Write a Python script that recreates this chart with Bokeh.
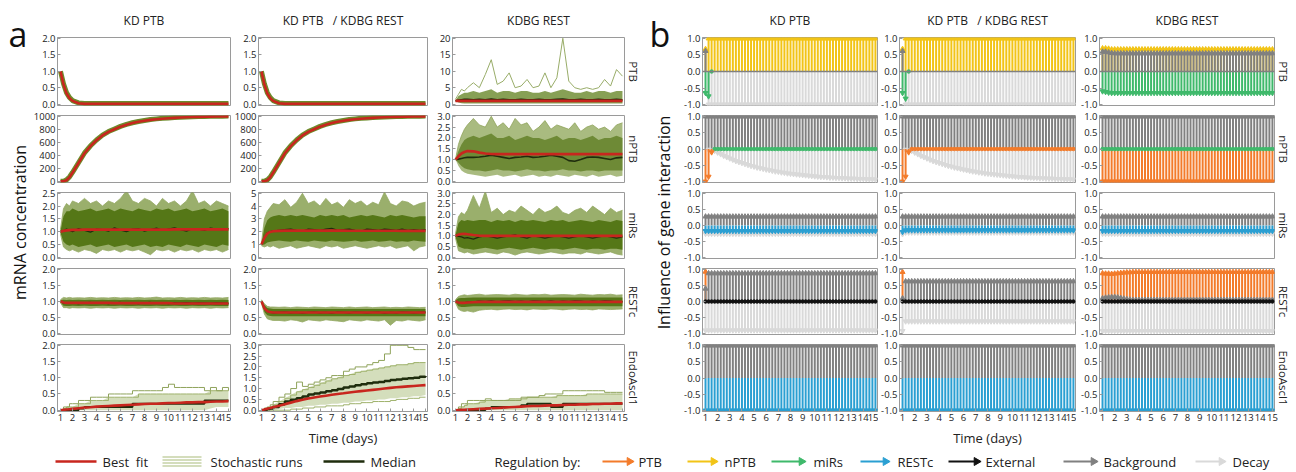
import math
from bokeh.plotting import figure
from bokeh.layouts import row, column
from bokeh.models import Range1d, FixedTicker, PrintfTickFormatter, Title, Span, ColumnDataSource
from bokeh.embed import file_html
from bokeh.resources import INLINE
from bokeh.core.properties import value

FONT = "Open Sans"
NB = "\u00a0"

# ---------------- labels ----------------
COLUMN_TITLES = ["KD PTB", "KD PTB" + NB * 3 + "/ KDBG REST", "KDBG REST"]
GENES = ["PTB", "nPTB", "miRs", "RESTc", "EndoAscl1"]
DAY_TICKS = [1, 2, 3, 4, 5, 6, 7, 8, 9, 10, 11, 12, 13, 14, 15]
A_YLABEL = "mRNA concentration"
B_YLABEL = "Influence of gene interaction"
X_LABEL = "Time (days)"

# ---------------- panel a: time grid ----------------
TA = [1.0, 1.25, 1.5, 1.75, 2.0,
      2.5, 3.0, 3.5, 4.0, 4.5, 5.0,
      5.5, 6.0, 6.5, 7.0, 7.5, 8.0, 8.5, 9.0, 9.5, 10.0,
      10.5, 11.0, 11.5, 12.0, 12.5, 13.0, 13.5, 14.0, 14.5, 15.0]

A_YMAX = [[2.0, 2.0, 20.0], [1000.0, 1000.0, 3.0], [2.5, 5.0, 3.0], [2.0, 2.0, 2.0], [2.0, 3.0, 2.0]]
TICKS_2 = [0.0, 0.5, 1.0, 1.5, 2.0]
TICKS_25 = [0.0, 0.5, 1.0, 1.5, 2.0, 2.5]
TICKS_3 = [0.0, 0.5, 1.0, 1.5, 2.0, 2.5, 3.0]
TICKS_5 = [0, 1, 2, 3, 4, 5]
TICKS_20 = [0, 5, 10, 15, 20]
TICKS_1000 = [0, 200, 400, 600, 800, 1000]

# PTB, KD PTB
A11_FIT = [1.0, 0.6, 0.33, 0.18, 0.1] + [0.03, 0.01, 0.01, 0.01, 0.01, 0.01] + [0.01] * 20
A11_MED = [1.0, 0.62, 0.35, 0.2, 0.11] + [0.04, 0.02, 0.02, 0.02, 0.02, 0.02] + [0.02] * 20
# PTB, KD PTB / KDBG REST
A12_FIT = [1.0, 0.6, 0.33, 0.18, 0.1] + [0.03, 0.01, 0.01, 0.01, 0.01, 0.01] + [0.01] * 20
A12_MED = [1.0, 0.62, 0.35, 0.2, 0.11] + [0.04, 0.02, 0.02, 0.02, 0.02, 0.02] + [0.02] * 20
# PTB, KDBG REST
A13_FIT = [1.0] * 31
A13_MED = [1.0, 1.2, 1.3, 1.4, 1.4, 1.3, 1.4, 1.3, 1.5, 1.3, 1.4,
           1.3, 1.3, 1.4, 1.3, 1.3, 1.4, 1.3, 1.3, 1.4, 1.5,
           1.3, 1.3, 1.4, 1.3, 1.3, 1.4, 1.3, 1.3, 1.4, 1.3]
A13_LO = [1.0, 0.5, 0.3, 0.2, 0.2] + [0.2] * 26
A13_HI = [1.1, 2.5, 3.0, 3.5, 3.5, 4.0, 3.5, 4.0, 4.5, 3.5, 4.0,
          4.0, 3.5, 4.0, 4.0, 3.5, 3.5, 4.0, 3.5, 4.0, 4.5,
          4.0, 3.5, 3.5, 4.0, 3.5, 4.0, 4.0, 3.5, 4.0, 4.0]
A13_MAX = [1.5, 3.0, 4.5, 4.0, 5.0, 6.5, 5.0, 9.0, 13.5, 6.0, 7.0,
           9.5, 5.0, 5.5, 7.5, 5.0, 5.5, 9.5, 5.0, 8.0, 20.0,
           7.0, 5.0, 4.5, 5.0, 4.5, 5.0, 7.5, 5.5, 10.5, 8.5]

# nPTB, KD PTB  and  KD PTB / KDBG REST
A21_FIT = [0, 0, 15, 60, 130, 280, 430, 540, 630, 705, 760,
           800, 840, 870, 895, 915, 930, 945, 955, 963, 970,
           976, 981, 985, 988, 991, 993, 995, 996, 997, 998]
A21_MED = [0, 0, 20, 65, 135, 285, 435, 545, 635, 710, 765,
           805, 845, 875, 900, 920, 935, 950, 960, 968, 975,
           981, 986, 990, 993, 996, 998, 1000, 1001, 1002, 1003]
A22_FIT = [0, 0, 15, 60, 130, 280, 430, 540, 630, 705, 760,
           800, 840, 870, 895, 915, 930, 945, 955, 963, 970,
           976, 981, 985, 988, 991, 993, 995, 996, 997, 998]
A22_MED = [0, 0, 20, 65, 135, 285, 435, 545, 635, 710, 765,
           805, 845, 875, 900, 920, 935, 950, 960, 968, 975,
           981, 986, 990, 993, 996, 998, 1000, 1001, 1002, 1003]
# nPTB, KDBG REST
A23_FIT = [1.0, 1.15, 1.28, 1.35, 1.39, 1.38, 1.32, 1.28, 1.26, 1.25, 1.25] + [1.25] * 20
A23_MED = [1.0, 1.02, 1.05, 1.08, 1.1, 1.1, 1.12, 1.15, 1.2, 1.15, 1.1,
           1.05, 1.1, 1.12, 1.15, 1.1, 1.12, 1.15, 1.2, 1.15, 1.1,
           0.95, 0.92, 1.0, 1.1, 1.12, 1.1, 1.05, 1.0, 1.08, 1.1]
A23_LO = [1.0, 0.85, 0.7, 0.6, 0.55, 0.5, 0.5, 0.45, 0.5, 0.55, 0.5,
          0.5, 0.45, 0.5, 0.55, 0.5, 0.5, 0.45, 0.5, 0.5, 0.55,
          0.5, 0.5, 0.45, 0.5, 0.5, 0.45, 0.5, 0.5, 0.5, 0.5]
A23_HI = [1.0, 1.4, 1.7, 1.9, 2.0, 2.1, 2.0, 2.1, 2.2, 2.0, 2.0,
          2.1, 1.9, 2.0, 2.1, 2.0, 2.0, 1.9, 2.0, 2.1, 1.9,
          2.0, 2.0, 1.9, 2.0, 2.1, 1.9, 2.0, 2.0, 2.1, 2.0]
A23_MIN = [1.0, 0.7, 0.5, 0.4, 0.35, 0.3, 0.25, 0.2, 0.25, 0.3, 0.2,
           0.25, 0.3, 0.2, 0.25, 0.3, 0.2, 0.25, 0.2, 0.3, 0.25,
           0.2, 0.3, 0.25, 0.2, 0.3, 0.2, 0.25, 0.3, 0.2, 0.25]
A23_MAX = [1.0, 1.7, 2.1, 2.4, 2.6, 2.9, 2.6, 2.5, 3.0, 2.5, 2.7,
           2.4, 2.9, 2.6, 2.7, 2.3, 2.5, 2.8, 2.4, 2.6, 2.5,
           2.4, 2.7, 2.3, 2.5, 2.6, 2.4, 2.5, 2.3, 2.6, 2.7]

# miRs
A31_FIT = [1.0, 1.03, 1.05, 1.06, 1.07, 1.07, 1.08, 1.08, 1.08, 1.08, 1.08] + [1.08] * 10 + [1.09] * 10
A31_MED = [1.0, 1.02, 1.1, 1.05, 1.0, 1.12, 1.05, 0.98, 1.1, 1.08, 1.02,
           1.15, 1.06, 1.0, 1.1, 1.12, 1.02, 1.08, 1.14, 1.05, 1.1,
           1.15, 1.08, 1.02, 1.12, 1.1, 1.05, 1.14, 1.1, 1.08, 1.12]
A31_LO = [0.95, 0.6, 0.5, 0.45, 0.5, 0.4, 0.45, 0.5, 0.4, 0.45, 0.5,
          0.4, 0.45, 0.5, 0.4, 0.45, 0.5, 0.4, 0.45, 0.4, 0.5,
          0.45, 0.4, 0.5, 0.45, 0.4, 0.5, 0.45, 0.4, 0.5, 0.45]
A31_HI = [1.05, 1.6, 1.8, 1.8, 1.9, 1.8, 1.85, 1.9, 1.8, 1.85, 1.9,
          1.8, 1.9, 1.85, 1.8, 1.9, 1.85, 1.8, 1.9, 1.85, 1.9,
          1.8, 1.85, 1.9, 1.8, 1.85, 1.9, 1.8, 1.85, 1.9, 1.8]
A31_MIN = [0.9, 0.4, 0.3, 0.25, 0.3, 0.2, 0.3, 0.25, 0.15, 0.3, 0.25,
           0.3, 0.2, 0.3, 0.25, 0.3, 0.2, 0.1, 0.3, 0.25, 0.3,
           0.2, 0.3, 0.25, 0.3, 0.2, 0.3, 0.25, 0.3, 0.2, 0.3]
A31_MAX = [1.1, 1.9, 2.1, 2.0, 2.2, 2.1, 2.3, 2.1, 2.2, 2.0, 2.2,
           2.1, 2.3, 2.6, 2.2, 2.1, 2.3, 2.2, 2.0, 2.3, 2.1,
           2.2, 2.0, 2.2, 2.6, 2.1, 2.2, 2.0, 2.2, 2.1, 2.0]

A32_FIT = [1.0, 1.5, 1.85, 1.98, 2.03, 2.06, 2.08, 2.08, 2.08, 2.08, 2.08,
           2.08, 2.08, 2.08, 2.08, 2.08, 2.08, 2.07, 2.07, 2.07, 2.07,
           2.07, 2.07, 2.07, 2.07, 2.07, 2.06, 2.06, 2.06, 2.06, 2.06]
A32_MED = [1.0, 1.5, 1.9, 2.0, 2.05, 2.1, 2.15, 2.2, 2.1, 2.05, 2.2,
           2.15, 2.1, 2.2, 2.25, 2.1, 2.15, 2.2, 2.1, 2.05, 2.2,
           2.15, 2.1, 2.2, 2.15, 2.1, 2.2, 2.1, 2.15, 2.1, 2.15]
A32_LO = [0.95, 1.0, 1.15, 1.2, 1.25, 1.3, 1.25, 1.2, 1.3, 1.25, 1.2,
          1.3, 1.25, 1.2, 1.3, 1.25, 1.2, 1.25, 1.3, 1.2, 1.25,
          1.3, 1.2, 1.25, 1.3, 1.2, 1.25, 1.2, 1.3, 1.25, 1.2]
A32_HI = [1.05, 2.3, 2.9, 3.1, 3.2, 3.3, 3.2, 3.3, 3.2, 3.3, 3.2,
          3.1, 3.3, 3.2, 3.3, 3.2, 3.3, 3.1, 3.2, 3.3, 3.2,
          3.3, 3.2, 3.1, 3.3, 3.2, 3.3, 3.2, 3.1, 3.2, 3.2]
A32_MIN = [0.9, 0.8, 0.9, 0.8, 0.9, 0.7, 0.8, 0.9, 0.7, 0.8, 0.9,
           0.8, 0.7, 0.9, 0.8, 0.9, 0.7, 0.8, 0.9, 0.8, 0.7,
           0.8, 0.9, 0.8, 0.9, 0.7, 0.8, 0.9, 0.5, 0.8, 0.9]
A32_MAX = [1.1, 3.0, 3.6, 3.9, 4.2, 4.1, 4.5, 3.9, 4.3, 5.0, 4.2,
           4.4, 4.0, 4.6, 4.1, 4.3, 3.9, 4.5, 4.2, 4.4, 4.0,
           4.3, 4.1, 5.1, 4.2, 4.0, 4.4, 4.3, 4.0, 4.2, 4.3]

A33_FIT = [1.0, 1.06, 1.09, 1.1, 1.08, 1.04, 1.01, 1.0, 1.0, 1.0, 1.0] + [1.0] * 20
A33_MED = [1.0, 0.98, 0.95, 0.9, 0.92, 0.85, 0.95, 1.0, 0.95, 0.9, 0.95,
           1.0, 1.05, 0.95, 0.9, 1.0, 0.95, 0.9, 0.95, 1.0, 0.95,
           0.9, 0.95, 1.0, 0.95, 0.9, 0.95, 1.0, 0.95, 0.9, 0.95]
A33_LO = [0.95, 0.5, 0.45, 0.4, 0.4, 0.35, 0.4, 0.45, 0.4, 0.35, 0.4,
          0.45, 0.4, 0.35, 0.4, 0.45, 0.4, 0.35, 0.4, 0.4, 0.35,
          0.4, 0.45, 0.4, 0.35, 0.4, 0.4, 0.35, 0.4, 0.4, 0.35]
A33_HI = [1.05, 1.6, 1.75, 1.7, 1.75, 1.7, 1.75, 1.75, 1.65, 1.75, 1.7,
          1.75, 1.65, 1.75, 1.7, 1.75, 1.7, 1.65, 1.75, 1.7, 1.75,
          1.65, 1.7, 1.75, 1.7, 1.65, 1.75, 1.7, 1.65, 1.75, 1.7]
A33_MIN = [0.9, 0.3, 0.25, 0.2, 0.25, 0.15, 0.2, 0.25, 0.2, 0.15, 0.25,
           0.2, 0.1, 0.2, 0.25, 0.2, 0.15, 0.2, 0.25, 0.2, 0.15,
           0.2, 0.2, 0.15, 0.25, 0.2, 0.15, 0.2, 0.25, 0.15, 0.1]
A33_MAX = [1.1, 1.9, 2.1, 2.0, 2.2, 2.9, 2.3, 3.1, 2.1, 2.3, 2.0,
           2.2, 2.1, 2.4, 2.2, 2.0, 2.3, 2.1, 2.2, 2.4, 2.1,
           2.0, 2.2, 2.3, 2.1, 2.4, 2.2, 2.0, 2.3, 2.1, 2.2]

# RESTc
A41_FIT = [1.0, 0.96, 0.95, 0.95, 0.95] + [0.95] * 6 + [0.94] * 10 + [0.93] * 10
A41_MED = [1.0, 0.95, 0.94, 0.96, 0.95, 0.93, 0.95, 0.96, 0.94, 0.95, 0.93,
           0.95, 0.96, 0.94, 0.95, 0.93, 0.95, 0.96, 0.94, 0.95, 0.93,
           0.95, 0.94, 0.96, 0.93, 0.95, 0.94, 0.93, 0.95, 0.94, 0.93]
A41_LO = [0.97, 0.86, 0.85, 0.85, 0.86, 0.85, 0.86, 0.85, 0.85, 0.86, 0.85,
          0.85, 0.86, 0.85, 0.85, 0.86, 0.85, 0.85, 0.86, 0.85, 0.85,
          0.86, 0.85, 0.85, 0.86, 0.85, 0.85, 0.86, 0.85, 0.85, 0.85]
A41_HI = [1.03, 1.05, 1.04, 1.05, 1.04, 1.05, 1.04, 1.05, 1.04, 1.05, 1.04,
          1.05, 1.04, 1.05, 1.04, 1.05, 1.04, 1.05, 1.04, 1.05, 1.04,
          1.05, 1.04, 1.05, 1.04, 1.05, 1.04, 1.05, 1.04, 1.05, 1.04]
A41_MIN = [0.95, 0.8, 0.8, 0.78, 0.8, 0.79, 0.8, 0.78, 0.8, 0.79, 0.8,
           0.78, 0.8, 0.79, 0.8, 0.78, 0.8, 0.79, 0.8, 0.78, 0.8,
           0.79, 0.8, 0.78, 0.8, 0.79, 0.8, 0.78, 0.8, 0.79, 0.8]
A41_MAX = [1.05, 1.12, 1.1, 1.12, 1.1, 1.11, 1.1, 1.12, 1.1, 1.11, 1.1,
           1.12, 1.1, 1.11, 1.1, 1.12, 1.1, 1.11, 1.13, 1.1, 1.11,
           1.1, 1.12, 1.1, 1.11, 1.1, 1.12, 1.1, 1.11, 1.1, 1.12]

A42_FIT = [1.0, 0.78, 0.69, 0.66, 0.65] + [0.65] * 26
A42_MED = [1.0, 0.78, 0.68, 0.66, 0.64, 0.65, 0.66, 0.64, 0.65, 0.63, 0.65,
           0.66, 0.64, 0.65, 0.63, 0.66, 0.65, 0.64, 0.66, 0.65, 0.64,
           0.65, 0.66, 0.63, 0.65, 0.64, 0.66, 0.65, 0.64, 0.65, 0.66]
A42_LO = [0.97, 0.66, 0.56, 0.54, 0.53] + [0.53] * 26
A42_HI = [1.03, 0.88, 0.79, 0.77, 0.76] + [0.76] * 26
A42_MIN = [0.95, 0.6, 0.45, 0.42, 0.4, 0.4, 0.38, 0.42, 0.4, 0.35, 0.42,
           0.4, 0.38, 0.42, 0.4, 0.38, 0.36, 0.42, 0.4, 0.38, 0.42,
           0.4, 0.38, 0.42, 0.25, 0.4, 0.38, 0.42, 0.4, 0.38, 0.42]
A42_MAX = [1.05, 0.92, 0.84, 0.82, 0.82, 0.81, 0.82, 0.8, 0.82, 0.81, 0.8,
           0.82, 0.81, 0.8, 0.82, 0.81, 0.8, 0.82, 0.8, 0.81, 0.82,
           0.8, 0.81, 0.82, 0.8, 0.81, 0.8, 0.82, 0.81, 0.8, 0.81]

A43_FIT = [1.0, 0.96, 0.95, 0.95, 0.96, 0.97, 0.98, 0.98, 0.98, 0.98, 0.98] + [0.98] * 20
A43_MED = [1.0, 0.96, 0.95, 0.96, 0.97, 0.98, 1.0, 0.99, 1.01, 0.98, 1.0,
           1.01, 0.99, 1.0, 0.98, 1.01, 1.0, 0.99, 1.01, 0.98, 1.0,
           0.99, 1.01, 1.0, 0.98, 1.0, 0.99, 1.01, 1.0, 0.98, 0.99]
A43_LO = [0.97, 0.84, 0.82, 0.82, 0.83] + [0.84] * 26
A43_HI = [1.03, 1.09, 1.1, 1.1, 1.11] + [1.12] * 26
A43_MIN = [0.95, 0.75, 0.7, 0.68, 0.7, 0.66, 0.72, 0.74, 0.75, 0.73, 0.75,
           0.76, 0.74, 0.75, 0.73, 0.76, 0.75, 0.74, 0.76, 0.75, 0.73,
           0.75, 0.76, 0.74, 0.75, 0.73, 0.76, 0.75, 0.74, 0.75, 0.76]
A43_MAX = [1.05, 1.15, 1.18, 1.2, 1.18, 1.2, 1.22, 1.19, 1.2, 1.21, 1.2,
           1.19, 1.22, 1.2, 1.19, 1.21, 1.2, 1.22, 1.19, 1.2, 1.21,
           1.2, 1.19, 1.22, 1.2, 1.19, 1.21, 1.2, 1.22, 1.19, 1.2]

# EndoAscl1
A51_FIT = [0.0, 0.01, 0.02, 0.03, 0.04, 0.06, 0.08, 0.09, 0.11, 0.12, 0.13,
           0.14, 0.15, 0.16, 0.17, 0.18, 0.19, 0.2, 0.2, 0.21, 0.22,
           0.22, 0.23, 0.24, 0.24, 0.25, 0.25, 0.26, 0.27, 0.27, 0.28]
A51_MED = [0, 0, 0, 0, 0, 0.05, 0.1, 0.1, 0.1, 0.1, 0.1,
           0.1, 0.1, 0.1, 0.2, 0.2, 0.2, 0.2, 0.2, 0.2, 0.2,
           0.2, 0.2, 0.2, 0.2, 0.2, 0.3, 0.3, 0.3, 0.3, 0.3]
A51_LO = [0.0] * 27 + [0.05, 0.1, 0.1, 0.1]
A51_HI = [0, 0.05, 0.1, 0.1, 0.1, 0.2, 0.2, 0.3, 0.3, 0.3, 0.4,
          0.4, 0.4, 0.4, 0.4, 0.5, 0.5, 0.5, 0.5, 0.5, 0.5,
          0.5, 0.5, 0.5, 0.5, 0.5, 0.5, 0.6, 0.6, 0.6, 0.6]
A51_MAX = [0, 0.1, 0.1, 0.2, 0.2, 0.3, 0.3, 0.4, 0.4, 0.4, 0.5,
           0.5, 0.5, 0.5, 0.6, 0.6, 0.6, 0.6, 0.6, 0.7, 0.8,
           0.7, 0.7, 0.7, 0.7, 0.7, 0.6, 0.7, 0.6, 0.7, 0.6]

A52_FIT = [0.0, 0.03, 0.07, 0.1, 0.14, 0.21, 0.28, 0.35, 0.42, 0.48, 0.54,
           0.59, 0.63, 0.67, 0.71, 0.75, 0.78, 0.82, 0.85, 0.88, 0.91,
           0.94, 0.97, 1.0, 1.03, 1.06, 1.08, 1.1, 1.12, 1.14, 1.16]
A52_MED = [0, 0.02, 0.05, 0.08, 0.15, 0.28, 0.4, 0.48, 0.55, 0.63, 0.72,
           0.77, 0.82, 0.87, 0.92, 0.98, 1.05, 1.1, 1.15, 1.2, 1.25,
           1.28, 1.3, 1.35, 1.4, 1.42, 1.45, 1.48, 1.5, 1.55, 1.58]
A52_LO = [0, 0, 0, 0, 0, 0.05, 0.1, 0.1, 0.15, 0.15, 0.2,
          0.2, 0.25, 0.25, 0.3, 0.3, 0.35, 0.35, 0.4, 0.4, 0.45,
          0.45, 0.5, 0.5, 0.55, 0.55, 0.6, 0.6, 0.65, 0.65, 0.7]
A52_HI = [0, 0.05, 0.1, 0.15, 0.25, 0.4, 0.55, 0.7, 0.85, 0.95, 1.05,
          1.15, 1.25, 1.35, 1.45, 1.5, 1.6, 1.65, 1.75, 1.8, 1.85,
          1.9, 1.95, 2.0, 2.05, 2.1, 2.1, 2.15, 2.2, 2.2, 2.2]
A52_MIN = [0, 0, 0, 0, 0, 0, 0, 0.05, 0.05, 0.1, 0.1,
           0.15, 0.15, 0.2, 0.2, 0.2, 0.25, 0.3, 0.3, 0.35, 0.35,
           0.4, 0.4, 0.4, 0.45, 0.5, 0.5, 0.55, 0.55, 0.6, 0.6]
A52_MAX = [0, 0.1, 0.15, 0.25, 0.4, 0.6, 0.75, 1.0, 1.3, 1.1, 1.2,
           1.3, 1.4, 1.5, 1.6, 1.6, 1.8, 1.9, 2.0, 2.0, 2.1,
           2.2, 2.3, 2.6, 3.0, 3.0, 3.0, 2.9, 2.8, 2.8, 2.8]

A53_FIT = [0.0, 0.005, 0.01, 0.015, 0.02, 0.03, 0.04, 0.05, 0.06, 0.07, 0.08,
           0.09, 0.1, 0.11, 0.12, 0.13, 0.13, 0.14, 0.15, 0.15, 0.16,
           0.17, 0.17, 0.18, 0.18, 0.19, 0.19, 0.2, 0.2, 0.21, 0.21]
A53_MED = [0, 0, 0, 0, 0, 0, 0, 0.05, 0.1, 0.1, 0.1,
           0.1, 0.1, 0.15, 0.2, 0.2, 0.2, 0.2, 0.1, 0.1, 0.2] + [0.2] * 10
A53_LO = [0.0] * 31
A53_HI = [0, 0.05, 0.1, 0.15, 0.2, 0.2, 0.25, 0.3, 0.3, 0.3, 0.3,
          0.35, 0.35, 0.35, 0.4, 0.4, 0.4, 0.4, 0.4, 0.45, 0.45,
          0.45, 0.45, 0.45, 0.5, 0.5, 0.5, 0.5, 0.5, 0.5, 0.5]
A53_MAX = [0, 0.1, 0.2, 0.2, 0.3, 0.3, 0.3, 0.35, 0.3, 0.3, 0.3,
           0.3, 0.3, 0.4, 0.4, 0.4, 0.45, 0.5, 0.5, 0.5, 0.6,
           0.6, 0.6, 0.6, 0.6, 0.6, 0.6, 0.55, 0.55, 0.55, 0.55]

# ---------------- panel b: time grid (quarter days) ----------------
TB = [1 + 0.25 * i for i in range(57)]
B_TICKS = [-1.0, -0.5, 0.0, 0.5, 1.0]

B11_DECAY = [None] + [-1.0] * 56
B11_NPTB = [0.68] + [1.0] * 56
B11_BACKGROUND = [0.62] + [None] * 56
B11_MIRS = [-0.65, -0.75, 0.0] + [None] * 54

B12_DECAY = [None] + [-1.0] * 56
B12_NPTB = [0.68] + [1.0] * 56
B12_BACKGROUND = [0.62] + [None] * 56
B12_MIRS = [-0.65, -0.82, 0.0] + [None] * 54

B13_NPTB = [0.7, 0.7, 0.69] + [0.67] * 54
B13_BACKGROUND = [0.6, 0.6, 0.58, 0.56] + [0.55] * 53
B13_MIRS = [-0.6, -0.62, -0.64] + [-0.65] * 54

DECAY_NPTB_KD = [-0.06, -0.11, -0.16, -0.21, -0.25,
                 -0.29, -0.33, -0.37, -0.40,
                 -0.43, -0.46, -0.49, -0.52,
                 -0.54, -0.57, -0.59, -0.61,
                 -0.63, -0.65, -0.67, -0.69,
                 -0.70, -0.72, -0.73, -0.75,
                 -0.76, -0.77, -0.78, -0.79,
                 -0.80, -0.81, -0.82, -0.83,
                 -0.84, -0.85, -0.86, -0.86,
                 -0.87, -0.88, -0.88, -0.89,
                 -0.89, -0.90, -0.90, -0.91,
                 -0.91, -0.91, -0.92, -0.92,
                 -0.92, -0.93, -0.93, -0.93,
                 -0.94]
B21_BACKGROUND = [1.0] * 57
B21_DECAY = [None, -0.02, -0.05] + DECAY_NPTB_KD
B21_PTB = [-1.0, -0.85, -0.1] + [None] * 54
B21_MIRS = [None] * 3 + [0.0] * 54

B22_BACKGROUND = [1.0] * 57
B22_DECAY = [None, -0.02, -0.05] + DECAY_NPTB_KD
B22_PTB = [-1.0, -0.85, -0.1] + [0.0] * 54

B23_BACKGROUND = [1.0] * 57
B23_PTB = [-1.0] * 57
B23_MIRS = [0.0] * 57

B31_BACKGROUND = [0.28] * 57
B31_DECAY = [-0.26] * 57
B31_RESTC = [-0.17] * 57
B32_BACKGROUND = [0.28] * 57
B32_DECAY = [-0.27] + [-0.22] * 56
B32_RESTC = [-0.2] + [-0.15] * 56
B33_BACKGROUND = [0.28] * 57
B33_DECAY = [-0.26] * 57
B33_RESTC = [-0.17] * 57

B41_DECAY = [-0.9] * 57
B41_PTB = [0.93] + [None] * 56
B41_BACKGROUND = [0.4] + [0.88] * 56
B41_EXTERNAL = [0.0] * 57
B42_DECAY = [-0.92] + [-0.62] * 56
B42_PTB = [0.92] + [None] * 56
B42_BACKGROUND = [0.1] + [0.63] * 56
B42_EXTERNAL = [0.0] * 57
B43_DECAY = [-0.92] * 57
B43_PTB = [0.88, 0.87, 0.87, 0.86, 0.87, 0.88, 0.89, 0.9, 0.91, 0.91] + [0.92] * 47
B43_BACKGROUND = [0.1, 0.12, 0.13, 0.14, 0.14, 0.13, 0.11, 0.09, 0.07, 0.06] + [0.05] * 47
B43_EXTERNAL = [0.0] * 57

B51_BACKGROUND = [1.0] * 57
B51_RESTC = [-1.0] * 57
B52_BACKGROUND = [1.0] * 57
B52_RESTC = [-1.0] * 57
B53_BACKGROUND = [1.0] * 57
B53_RESTC = [-1.0] * 57

# ---------------- colours ----------------
C_PTB = "#f37b2a"
C_NPTB = "#f2c416"
C_MIRS = "#3fb96b"
C_RESTC = "#2a9fd2"
C_EXT = "#111111"
C_BG = "#808080"
C_DECAY = "#d9d9d9"
C_FIT = "#c8261e"
C_MED = "#1f2d0d"
C_DENSE = "#557717"
C_OUTER = "#6f8d2e"

REG_LABELS = ["PTB", "nPTB", "miRs", "RESTc", "External", "Background", "Decay"]
REG_COLORS = [C_PTB, C_NPTB, C_MIRS, C_RESTC, C_EXT, C_BG, C_DECAY]

# ---------------- cell tables ----------------
A_CELLS = [
    [dict(kind="line", fit=A11_FIT, med=A11_MED),
     dict(kind="line", fit=A12_FIT, med=A12_MED),
     dict(kind="spiky", fit=A13_FIT, med=A13_MED, lo=A13_LO, hi=A13_HI, mx=A13_MAX)],
    [dict(kind="line", fit=A21_FIT, med=A21_MED),
     dict(kind="line", fit=A22_FIT, med=A22_MED),
     dict(kind="medium", fit=A23_FIT, med=A23_MED, lo=A23_LO, hi=A23_HI, mn=A23_MIN, mx=A23_MAX)],
    [dict(kind="dense", fit=A31_FIT, med=A31_MED, lo=A31_LO, hi=A31_HI, mn=A31_MIN, mx=A31_MAX),
     dict(kind="dense", fit=A32_FIT, med=A32_MED, lo=A32_LO, hi=A32_HI, mn=A32_MIN, mx=A32_MAX),
     dict(kind="dense", fit=A33_FIT, med=A33_MED, lo=A33_LO, hi=A33_HI, mn=A33_MIN, mx=A33_MAX)],
    [dict(kind="dense", fit=A41_FIT, med=A41_MED, lo=A41_LO, hi=A41_HI, mn=A41_MIN, mx=A41_MAX),
     dict(kind="dense", fit=A42_FIT, med=A42_MED, lo=A42_LO, hi=A42_HI, mn=A42_MIN, mx=A42_MAX),
     dict(kind="dense", fit=A43_FIT, med=A43_MED, lo=A43_LO, hi=A43_HI, mn=A43_MIN, mx=A43_MAX)],
    [dict(kind="sparse", fit=A51_FIT, med=A51_MED, lo=A51_LO, hi=A51_HI, mx=A51_MAX),
     dict(kind="sparse", fit=A52_FIT, med=A52_MED, lo=A52_LO, hi=A52_HI, mn=A52_MIN, mx=A52_MAX),
     dict(kind="sparse", fit=A53_FIT, med=A53_MED, lo=A53_LO, hi=A53_HI, mx=A53_MAX)],
]
A_TICKS = [[TICKS_2, TICKS_2, TICKS_20], [TICKS_1000, TICKS_1000, TICKS_3],
           [TICKS_25, TICKS_5, TICKS_3], [TICKS_2, TICKS_2, TICKS_2], [TICKS_2, TICKS_3, TICKS_2]]
A_FMT = [["%.1f", "%.1f", "%d"], ["%d", "%d", "%.1f"], ["%.1f", "%d", "%.1f"],
         ["%.1f", "%.1f", "%.1f"], ["%.1f", "%.1f", "%.1f"]]

B_CELLS = [
    [[(C_DECAY, B11_DECAY), (C_NPTB, B11_NPTB), (C_BG, B11_BACKGROUND), (C_MIRS, B11_MIRS)],
     [(C_DECAY, B12_DECAY), (C_NPTB, B12_NPTB), (C_BG, B12_BACKGROUND), (C_MIRS, B12_MIRS)],
     [(C_NPTB, B13_NPTB), (C_BG, B13_BACKGROUND), (C_MIRS, B13_MIRS)]],
    [[(C_BG, B21_BACKGROUND), (C_DECAY, B21_DECAY), (C_MIRS, B21_MIRS), (C_PTB, B21_PTB)],
     [(C_BG, B22_BACKGROUND), (C_DECAY, B22_DECAY), (C_PTB, B22_PTB)],
     [(C_BG, B23_BACKGROUND), (C_PTB, B23_PTB), (C_MIRS, B23_MIRS)]],
    [[(C_BG, B31_BACKGROUND), (C_DECAY, B31_DECAY), (C_RESTC, B31_RESTC)],
     [(C_BG, B32_BACKGROUND), (C_DECAY, B32_DECAY), (C_RESTC, B32_RESTC)],
     [(C_BG, B33_BACKGROUND), (C_DECAY, B33_DECAY), (C_RESTC, B33_RESTC)]],
    [[(C_DECAY, B41_DECAY), (C_PTB, B41_PTB), (C_BG, B41_BACKGROUND), (C_EXT, B41_EXTERNAL)],
     [(C_DECAY, B42_DECAY), (C_PTB, B42_PTB), (C_BG, B42_BACKGROUND), (C_EXT, B42_EXTERNAL)],
     [(C_DECAY, B43_DECAY), (C_PTB, B43_PTB), (C_BG, B43_BACKGROUND), (C_EXT, B43_EXTERNAL)]],
    [[(C_BG, B51_BACKGROUND), (C_RESTC, B51_RESTC)],
     [(C_BG, B52_BACKGROUND), (C_RESTC, B52_RESTC)],
     [(C_BG, B53_BACKGROUND), (C_RESTC, B53_RESTC)]],
]
B_ZERO_SPAN = [[C_BG, C_BG, C_BG], [None] * 3, [None] * 3, [None] * 3, [None] * 3]

for rr in A_CELLS:
    for cell in rr:
        for k, v in cell.items():
            if k != "kind" and len(v) != len(TA):
                raise ValueError("panel a length mismatch %s %d" % (k, len(v)))
for rr in B_CELLS:
    for comps in rr:
        for col, v in comps:
            if len(v) != len(TB):
                raise ValueError("panel b length mismatch %d" % len(v))

# ---------------- geometry ----------------
ROWS = [(110, 37, 5), (77, 5, 5), (76, 5, 5), (76, 5, 5), (110, 5, 38)]
A_COLS = [(201, 25, 1), (197, 24, 1), (222, 24, 26)]
B_COLS = [(202, 26, 1), (198, 21, 1), (218, 23, 20)]
STRIP_A_W = 30
STRIP_B_W = 26
TOTAL_H = sum(r[0] for r in ROWS)
LEG_H = 21
LEG_W = 1294
X_RANGE = (0.75, 15.17)
GRID_COL = "#9a9a9a"
TXT = "#222222"
TICK_FS = "9.5px"


def style_axes(p, yticks, yfmt, r, with_label):
    p.xgrid.visible = False
    p.ygrid.visible = False
    p.outline_line_color = GRID_COL
    ya = p.yaxis[0]
    ya.ticker = FixedTicker(ticks=yticks)
    ya.formatter = PrintfTickFormatter(format=yfmt)
    ya.major_tick_in = 3
    ya.major_tick_out = 0
    ya.minor_tick_line_color = None
    ya.axis_line_color = GRID_COL
    ya.major_tick_line_color = GRID_COL
    ya.major_label_text_font = FONT
    ya.major_label_text_font_size = TICK_FS
    ya.major_label_text_color = TXT
    ya.major_label_standoff = 2
    xa = p.xaxis[0]
    if r == 4:
        xa.ticker = FixedTicker(ticks=DAY_TICKS)
        xa.formatter = PrintfTickFormatter(format="%d")
        xa.major_tick_in = 3
        xa.major_tick_out = 0
        xa.minor_tick_line_color = None
        xa.axis_line_color = GRID_COL
        xa.major_tick_line_color = GRID_COL
        xa.major_label_text_font = FONT
        xa.major_label_text_font_size = TICK_FS
        xa.major_label_text_color = TXT
        xa.major_label_standoff = 2
        if with_label:
            xa.axis_label = X_LABEL
            xa.axis_label_text_font = FONT
            xa.axis_label_text_font_size = "13px"
            xa.axis_label_text_font_style = "normal"
            xa.axis_label_text_color = TXT
            xa.axis_label_standoff = 5
    else:
        xa.visible = False


def make_fig(colspec, r, c, yr, title):
    w, lb, rb = colspec
    h, tb, bb = ROWS[r]
    p = figure(width=w, height=h, x_range=Range1d(*X_RANGE), y_range=Range1d(*yr),
               toolbar_location=None, output_backend="svg",
               min_border_left=lb, min_border_right=rb, min_border_top=tb, min_border_bottom=bb,
               title=title)
    if title is not None:
        p.title.text_font = FONT
        p.title.text_font_size = "12px"
        p.title.text_font_style = "normal"
        p.title.text_color = TXT
        p.title.align = "center"
        p.title.standoff = 17
    if c == 2:
        p.add_layout(Title(text=GENES[r], align="center", text_font=FONT, text_font_size="11.5px",
                           text_font_style="normal", text_color=TXT, standoff=3), "right")
    return p


def a_fig(r, c):
    ymax = A_YMAX[r][c]
    yr = (-0.02 * ymax, 1.012 * ymax)
    p = make_fig(A_COLS[c], r, c, yr, COLUMN_TITLES[c] if r == 0 else None)
    style_axes(p, A_TICKS[r][c], A_FMT[r][c], r, c == 1)
    d = A_CELLS[r][c]
    k = d["kind"]
    if k == "line":
        p.line(TA, d["med"], line_color="#6d8c2b", line_width=5)
    elif k == "dense":
        p.varea(x=TA, y1=d["mn"], y2=d["mx"], fill_color=C_OUTER, fill_alpha=0.7)
        p.varea(x=TA, y1=d["lo"], y2=d["hi"], fill_color=C_DENSE, fill_alpha=1.0)
        p.line(TA, d["mx"], line_color="#93a862", line_width=0.8)
        p.line(TA, d["mn"], line_color="#93a862", line_width=0.8)
        p.line(TA, d["med"], line_color=C_MED, line_width=1.3)
    elif k == "medium":
        p.varea(x=TA, y1=d["mn"], y2=d["mx"], fill_color="#a0b472", fill_alpha=0.9)
        p.varea(x=TA, y1=d["lo"], y2=d["hi"], fill_color="#67852d", fill_alpha=0.9)
        p.line(TA, d["mx"], line_color="#8fa35b", line_width=0.8)
        p.line(TA, d["med"], line_color=C_MED, line_width=1.6)
    elif k == "spiky":
        p.line(TA, d["mx"], line_color="#98ac68", line_width=1)
        p.varea(x=TA, y1=d["lo"], y2=d["hi"], fill_color="#7a9643", fill_alpha=0.9)
        p.line(TA, d["med"], line_color=C_MED, line_width=2)
    elif k == "sparse":
        p.varea(x=TA, y1=d["lo"], y2=d["hi"], fill_color="#cdd8b0", fill_alpha=0.85)
        p.step(TA, d["hi"], mode="after", line_color="#9fb26c", line_width=1)
        p.step(TA, d["mx"], mode="after", line_color="#8fa35b", line_width=1)
        if "mn" in d:
            p.step(TA, d["mn"], mode="after", line_color="#9fb26c", line_width=1)
        p.step(TA, d["med"], mode="after", line_color=C_MED, line_width=2.5 if c == 1 else 2)
    p.line(TA, d["fit"], line_color=C_FIT, line_width=2.6)
    return p


def stems(p, vals, color):
    xs = [t for t, v in zip(TB, vals) if v is not None]
    ys = [v for v in vals if v is not None]
    mk = ["triangle" if y > 0 else ("inverted_triangle" if y < 0 else "circle") for y in ys]
    sz = [5 if y != 0 else 3.5 for y in ys]
    src = ColumnDataSource(dict(x=xs, y=ys, y0=[0.0] * len(xs), mk=mk, sz=sz))
    p.segment(x0="x", y0="y0", x1="x", y1="y", source=src, line_color=color, line_width=2)
    p.scatter(x="x", y="y", marker="mk", size="sz", source=src, fill_color=color, line_color=color)


def b_fig(r, c):
    p = make_fig(B_COLS[c], r, c, (-1.03, 1.03), COLUMN_TITLES[c] if r == 0 else None)
    style_axes(p, B_TICKS, "%.1f", r, c == 1)
    zc = B_ZERO_SPAN[r][c]
    for color, vals in B_CELLS[r][c]:
        stems(p, vals, color)
    if zc is not None:
        p.add_layout(Span(location=0, dimension="width", line_color=zc, line_width=1.5))
    return p


def strip(width, letter, letter_x, label, label_x):
    p = figure(width=width, height=TOTAL_H, x_range=Range1d(0, width), y_range=Range1d(0, TOTAL_H),
               toolbar_location=None, output_backend="svg", min_border=0)
    p.axis.visible = False
    p.grid.visible = False
    p.outline_line_color = None
    p.text(x=[letter_x], y=[TOTAL_H - 33], text=[letter], text_font=value(FONT),
           text_font_size="34px", text_baseline="alphabetic", text_align="left", text_color="#111111")
    p.text(x=[label_x], y=[TOTAL_H - 222], text=[label], text_font=value(FONT), text_font_size="16px",
           angle=math.pi / 2, text_align="center", text_baseline="middle", text_color="#111111")
    return p


def legend_fig():
    p = figure(width=LEG_W, height=LEG_H, x_range=Range1d(0, LEG_W), y_range=Range1d(0, LEG_H),
               toolbar_location=None, output_backend="svg", min_border=0)
    p.axis.visible = False
    p.grid.visible = False
    p.outline_line_color = None
    y = 9
    tk = dict(text_font=value(FONT), text_font_size="13px", text_baseline="middle",
              text_align="left", text_color=TXT)
    p.segment(x0=[55], y0=[y], x1=[96], y1=[y], line_color=C_FIT, line_width=2.6)
    p.text(x=[102], y=[y], text=["Best" + NB + " fit"], **tk)
    for dy in (-4.5, -1.5, 1.5, 4.5):
        p.segment(x0=[162], y0=[y + dy], x1=[201], y1=[y + dy], line_color="#a9bb7b", line_width=1.2)
    p.text(x=[210], y=[y], text=["Stochastic runs"], **tk)
    p.segment(x0=[323], y0=[y], x1=[364], y1=[y], line_color=C_MED, line_width=2.6)
    p.text(x=[370], y=[y], text=["Median"], **tk)
    p.text(x=[494], y=[y], text=["Regulation by:"], **tk)
    arrows = [(602, 632, 638), (687, 716, 724), (771, 804, 813), (860, 888, 897),
              (948, 979, 985), (1063, 1096, 1103), (1195, 1224, 1232)]
    for (x0, x1, xt), lab, col in zip(arrows, REG_LABELS, REG_COLORS):
        p.segment(x0=[x0], y0=[y], x1=[x1 - 4], y1=[y], line_color=col, line_width=2.2)
        p.scatter(x=[x1 - 3], y=[y], marker="triangle", size=8, angle=-math.pi / 2,
                  fill_color=col, line_color=col)
        p.text(x=[xt], y=[y], text=[lab], **tk)
    return p


cols = [strip(STRIP_A_W, "a", 8, A_YLABEL, 19)]
for c in range(3):
    cols.append(column(*[a_fig(r, c) for r in range(5)]))
cols.append(strip(STRIP_B_W, "b", -1, B_YLABEL, 13))
for c in range(3):
    cols.append(column(*[b_fig(r, c) for r in range(5)]))

layout = column(row(*cols), legend_fig())

open("out.html", "w").write(file_html(layout, INLINE))
